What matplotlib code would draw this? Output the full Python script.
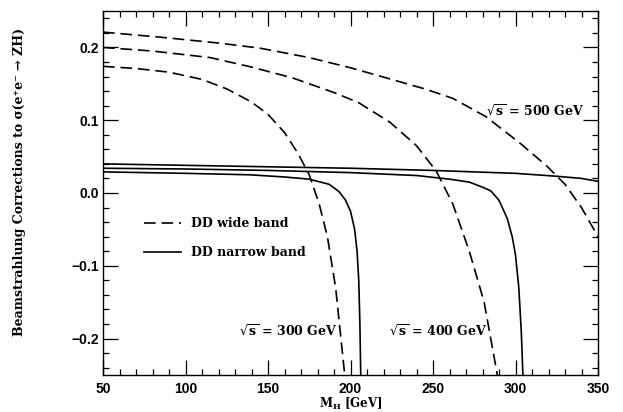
import matplotlib
matplotlib.use("Agg")
import matplotlib.pyplot as plt
from matplotlib.ticker import MultipleLocator

# ---- data ----
# DD wide band (dashed)
wide300_x = [50, 70, 90, 110, 125, 140, 150, 160, 168, 175, 181, 186, 191, 196.5]
wide300_y = [0.174, 0.171, 0.166, 0.156, 0.143, 0.125, 0.108, 0.083, 0.055, 0.025, -0.015, -0.060, -0.130, -0.25]

wide400_x = [50, 80, 115, 140, 165, 190, 205, 224, 240, 252, 262, 272, 281, 289]
wide400_y = [0.200, 0.195, 0.186, 0.173, 0.158, 0.138, 0.124, 0.097, 0.065, 0.030, -0.015, -0.080, -0.150, -0.25]

wide500_x = [50, 85, 120, 145, 175, 200, 225, 245, 262, 282, 303, 319, 330, 340, 350]
wide500_y = [0.221, 0.214, 0.206, 0.199, 0.186, 0.172, 0.156, 0.143, 0.130, 0.105, 0.068, 0.037, 0.012, -0.020, -0.060]

# DD narrow band (solid)
narrow300_x = [50, 100, 139, 160, 175, 187, 193, 197, 200, 202.5, 204, 205, 205.7, 206.2]
narrow300_y = [0.029, 0.027, 0.025, 0.022, 0.019, 0.012, 0.002, -0.010, -0.025, -0.050, -0.080, -0.120, -0.180, -0.25]

narrow400_x = [50, 100, 150, 200, 240, 260, 272, 280, 285, 290, 295, 298, 300, 302, 303.5, 304.5]
narrow400_y = [0.034, 0.033, 0.031, 0.028, 0.024, 0.019, 0.015, 0.008, 0.003, -0.010, -0.035, -0.060, -0.085, -0.130, -0.190, -0.25]

narrow500_x = [50, 100, 150, 200, 250, 300, 325, 340, 350]
narrow500_y = [0.040, 0.038, 0.036, 0.034, 0.031, 0.027, 0.023, 0.020, 0.016]

energy_labels = [r"$\sqrt{\mathbf{s}}$ = 300 GeV", r"$\sqrt{\mathbf{s}}$ = 400 GeV", r"$\sqrt{\mathbf{s}}$ = 500 GeV"]
legend_labels = ["DD wide band", "DD narrow band"]

# ---- figure ----
plt.rcParams['mathtext.fontset'] = 'dejavuserif'
fig = plt.figure(figsize=(6.23, 4.12), dpi=100)
ax = fig.add_axes([103/623, 1-375/412, (598-103)/623, (375-11)/412])

dash = (0, (7, 3.5))
lw_d = 1.2
lw_s = 1.2
l1, = ax.plot(wide300_x, wide300_y, color='black', lw=lw_d, linestyle=dash)
ax.plot(wide400_x, wide400_y, color='black', lw=lw_d, linestyle=dash)
ax.plot(wide500_x, wide500_y, color='black', lw=lw_d, linestyle=dash)
l2, = ax.plot(narrow300_x, narrow300_y, color='black', lw=lw_s)
ax.plot(narrow400_x, narrow400_y, color='black', lw=lw_s)
ax.plot(narrow500_x, narrow500_y, color='black', lw=lw_s)

ax.set_xlim(50, 350)
ax.set_ylim(-0.25, 0.25)

ax.xaxis.set_major_locator(MultipleLocator(50))
ax.xaxis.set_minor_locator(MultipleLocator(10))
ax.yaxis.set_major_locator(MultipleLocator(0.1))
ax.yaxis.set_minor_locator(MultipleLocator(0.02))
ax.tick_params(which='both', direction='in', top=True, right=True, width=0.9)
ax.tick_params(which='major', length=11)
ax.tick_params(which='minor', length=4)
ax.tick_params(axis='x', which='major', pad=5)
ax.tick_params(axis='y', which='major', pad=3)

tick_font = dict(family='Liberation Sans', weight='bold', size=10)
ax.set_xticks([50, 100, 150, 200, 250, 300, 350])
ax.set_xticklabels(["50", "100", "150", "200", "250", "300", "350"], **tick_font)
ax.set_yticks([-0.2, -0.1, 0.0, 0.1, 0.2])
ax.set_yticklabels(["\u22120.2", "\u22120.1", "0.0", "0.1", "0.2"], **tick_font)

for s in ax.spines.values():
    s.set_linewidth(1.0)

serif = dict(family='DejaVu Serif', weight='bold')
ax.set_xlabel(r"$\mathbf{M}_{\mathbf{H}}$ [GeV]", fontsize=8.5, labelpad=0, **serif)
ax.set_ylabel("Beamstrahlung Corrections to \u03c3(e\u207ae\u207b \u2192 ZH)", fontsize=9, **serif)
ax.yaxis.set_label_coords(-0.155, 0.53)

ax.text(162, -0.19, energy_labels[0], ha='center', va='center', fontsize=9, **serif)
ax.text(253, -0.19, energy_labels[1], ha='center', va='center', fontsize=9, **serif)
ax.text(312, 0.112, energy_labels[2], ha='center', va='center', fontsize=9, **serif)

leg = ax.legend([l1, l2], legend_labels, loc='upper left', bbox_to_anchor=(0.06, 0.465),
                frameon=False, handlelength=3.0, handletextpad=0.8, labelspacing=1.3,
                prop=dict(family='DejaVu Serif', weight='bold', size=9))

fig.savefig("out.png", dpi=100)
